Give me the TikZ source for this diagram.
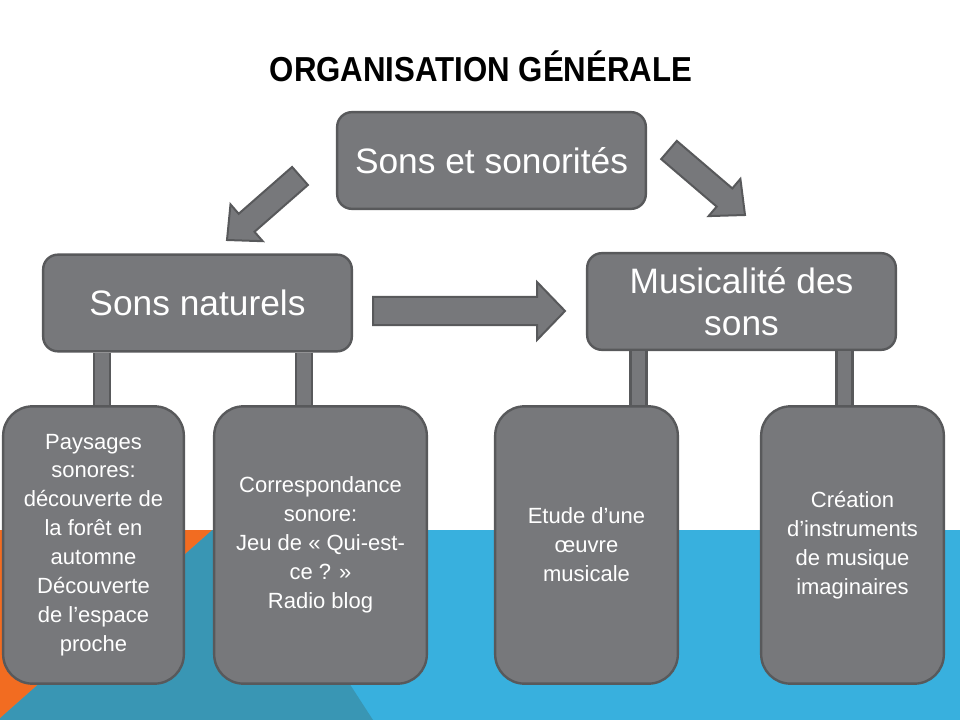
\documentclass[tikz,border=0pt]{standalone}
\usepackage{fontspec}
\setmainfont{Liberation Sans}
\newfontfamily\titlefont[FakeStretch=0.9]{Liberation Sans}
\usetikzlibrary{positioning}
\definecolor{boxgray}{RGB}{119,120,123}
\definecolor{boxline}{RGB}{88,89,91}
\definecolor{skyblue}{RGB}{56,176,222}
\definecolor{deepteal}{RGB}{57,150,180}
\definecolor{tangerine}{RGB}{242,108,33}

\begin{document}
\begin{tikzpicture}[
x=0.75pt,y=-0.75pt,
topbox/.style={
  draw=boxline,
  fill=boxgray,
  line width=1.8pt,
  rounded corners=11pt,
  minimum width=231.5pt,
  minimum height=72.5pt,
  text=white,
  align=center,
  inner sep=2pt,
  font=\fontsize{26.5}{31.5}\selectfont},
subbox/.style={
  draw=boxline,
  fill=boxgray,
  line width=1.8pt,
  rounded corners=22pt,
  minimum height=208pt,
  text=white,
  align=center,
  inner sep=2pt,
  execute at begin node={\rule{0pt}{17pt}},
  font=\fontsize{16.5}{21.7}\selectfont},
stub/.style={
  draw=boxline,
  line width=1.8pt,
  double=boxgray,
  double distance=10pt},
blockarrow/.style={
  draw=boxline,
  fill=boxgray,
  line width=1.5pt,
  line join=miter}
]
\fill[white] (0,0) rectangle (960,720);
\fill[skyblue] (0,530) rectangle (960,720);
\fill[deepteal] (212,530) -- (250,530) -- (373,720) -- (0,720) -- (0,718) -- cycle;
\fill[tangerine] (0,530) -- (212,530) -- (0,718) -- cycle;
\useasboundingbox (0,0) rectangle (960,720);

\node[font=\titlefont\bfseries\fontsize{26}{30}\selectfont, anchor=base]
  (titre) at (481,82) {ORGANISATION GÉNÉRALE};

\node[topbox] (sons) at (491.5,160.5) {Sons et sonorités};
\node[topbox] (nat) at (197.5,303) {Sons naturels};
\node[topbox] (musi) at (741.5,301.5) {Musicalité des\\sons};

\node[subbox, minimum width=135.5pt] (pay) at (93.5,545)
  {Paysages\\sonores:\\découverte de\\la forêt en\\automne\\Découverte\\de l’espace\\proche};
\node[subbox, minimum width=159.5pt] (corr) at (320.5,545)
  {Correspondance\\sonore:\\Jeu de « Qui-est-\\ce ? »\\Radio blog};
\node[subbox, minimum width=137pt] (etude) at (586.5,545)
  {Etude d’une\\œuvre\\musicale};
\node[subbox, minimum width=137pt] (crea) at (852.5,545)
  {Création\\d’instruments\\de musique\\imaginaires};

\draw[stub] (nat.south -| 102,0) -- (pay.north -| 102,0);
\draw[stub] (nat.south -| 304,0) -- (corr.north -| 304,0);
\draw[stub] (musi.south -| 638.5,0) -- (etude.north -| 638.5,0);
\draw[stub] (musi.south -| 844.5,0) -- (crea.north -| 844.5,0);

% block arrows
\draw[blockarrow] (292.1,167) -- (307.9,185) -- (254.5,231.8) -- (262.7,241.2)
  -- (227,240) -- (230.5,204.4) -- (238.7,213.8) -- cycle;
\draw[blockarrow] (676.8,140.9) -- (661.2,159.1) -- (716.7,206.6) -- (708.6,216.1)
  -- (745,215) -- (740.4,178.9) -- (732.3,188.4) -- cycle;
\draw[blockarrow] (373,297) -- (537,297) -- (537,282) -- (565,311)
  -- (537,340) -- (537,325) -- (373,325) -- cycle;
\end{tikzpicture}
\end{document}
